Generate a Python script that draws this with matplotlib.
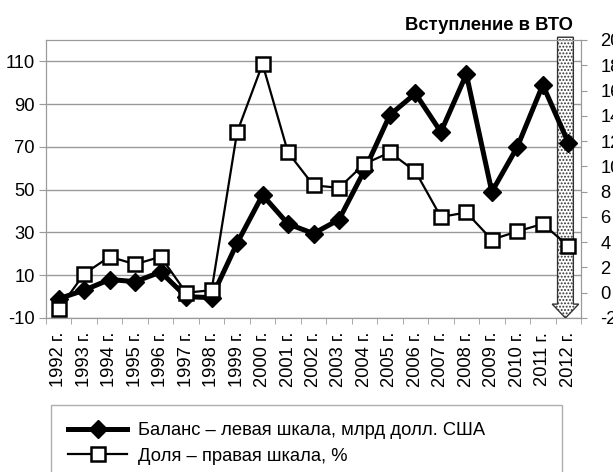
import numpy as np
import matplotlib.pyplot as plt
from matplotlib.patches import Polygon
import matplotlib.transforms as mtransforms

plt.rcParams['font.family'] = ['Liberation Sans', 'DejaVu Sans']
plt.rcParams['axes.unicode_minus'] = False
plt.rcParams['hatch.color'] = '#666666'
plt.rcParams['hatch.linewidth'] = 0.9

# data
years = ['%d г.' % y for y in range(1992, 2013)]
balance = [-1, 3, 8, 7, 11.5, 0, -0.5, 25, 47.5, 34, 29.5, 36, 59, 85,
           95, 77, 104, 49, 70, 99, 72]          # left scale, bn USD
share = [-1.3, 1.5, 2.85, 2.25, 2.85, 0.0, 0.2, 12.7, 18.1, 11.1, 8.5, 8.3,
         10.2, 11.1, 9.6, 6.0, 6.35, 4.2, 4.85, 5.45, 3.7]  # right scale, %
left_ticks = [-10, 10, 30, 50, 70, 90, 110]
right_ticks = list(range(-2, 21, 2))
wto_year = '2012 г.'

grey = '#9a9a9a'
fs = 13.2

fig = plt.figure(figsize=(6.13, 4.72), dpi=100)
ax = fig.add_axes([46 / 613, 1 - 318 / 472, 535 / 613, 278 / 472])
ax2 = ax.twinx()

x = np.arange(len(years))
ax.plot(x, balance, color='black', lw=3.6, marker='D', ms=9.5,
        label='Баланс – левая шкала, млрд долл. США', zorder=3)
ax2.plot(x, share, color='black', lw=1.6, marker='s', ms=10,
         mfc='white', mec='black', mew=1.8, label='Доля – правая шкала, %',
         zorder=4)
ax.set_zorder(ax2.get_zorder() - 1)
ax2.patch.set_visible(False)

ax.set_xlim(-0.5, len(years) - 0.5)
ax.set_ylim(-10, 120)
ax2.set_ylim(-2, 20)
ax.set_yticks(left_ticks)
ax2.set_yticks(right_ticks)
ax.set_xticks(x)
ax.set_xticklabels(years, rotation=90, fontsize=fs)
ax.set_xticks(np.arange(len(years) + 1) - 0.5, minor=True)
ax.tick_params(axis='x', which='major', length=0, pad=10)
ax.tick_params(axis='x', which='minor', length=4, color=grey)
ax.tick_params(axis='y', labelsize=fs, length=5, color=grey, pad=3)
ax2.tick_params(axis='y', labelsize=fs, length=4, color=grey, pad=10)
ax.grid(axis='y', color=grey, lw=1)
for a in (ax, ax2):
    for s in a.spines.values():
        s.set_color(grey)

# arrow marking WTO accession (under the lines)
i = years.index(wto_year)
c = i - 0.11
hw, hh, hl = 0.31, 0.52, 6.5
ax.add_patch(Polygon([(c - hw, 121.3), (c + hw, 121.3), (c + hw, -10 + hl),
                      (c + hh, -10 + hl), (c, -10), (c - hh, -10 + hl),
                      (c - hw, -10 + hl)], closed=True, facecolor='white',
                     edgecolor='#333333', lw=1, hatch='.....', zorder=2,
                     clip_on=False))

trans = mtransforms.blended_transform_factory(ax.transData, fig.transFigure)
ax.text(c + hw, 1 - 25 / 472, 'Вступление в ВТО', transform=trans,
        ha='right', va='center', fontsize=fs, fontweight='bold')

h1, l1 = ax.get_legend_handles_labels()
h2, l2 = ax2.get_legend_handles_labels()
leg = fig.legend(h1 + h2, l1 + l2, loc='upper left', mode='expand',
                 bbox_to_anchor=(51 / 613, 1 - 480 / 472, 511 / 613, 75 / 472),
                 fontsize=fs, frameon=True, fancybox=False, handlelength=3.2,
                 handletextpad=0.6, borderpad=0.95, labelspacing=0.45,
                 borderaxespad=0)
leg.get_frame().set_edgecolor(grey)
leg.get_frame().set_linewidth(1)

plt.savefig('out.png', dpi=100)
